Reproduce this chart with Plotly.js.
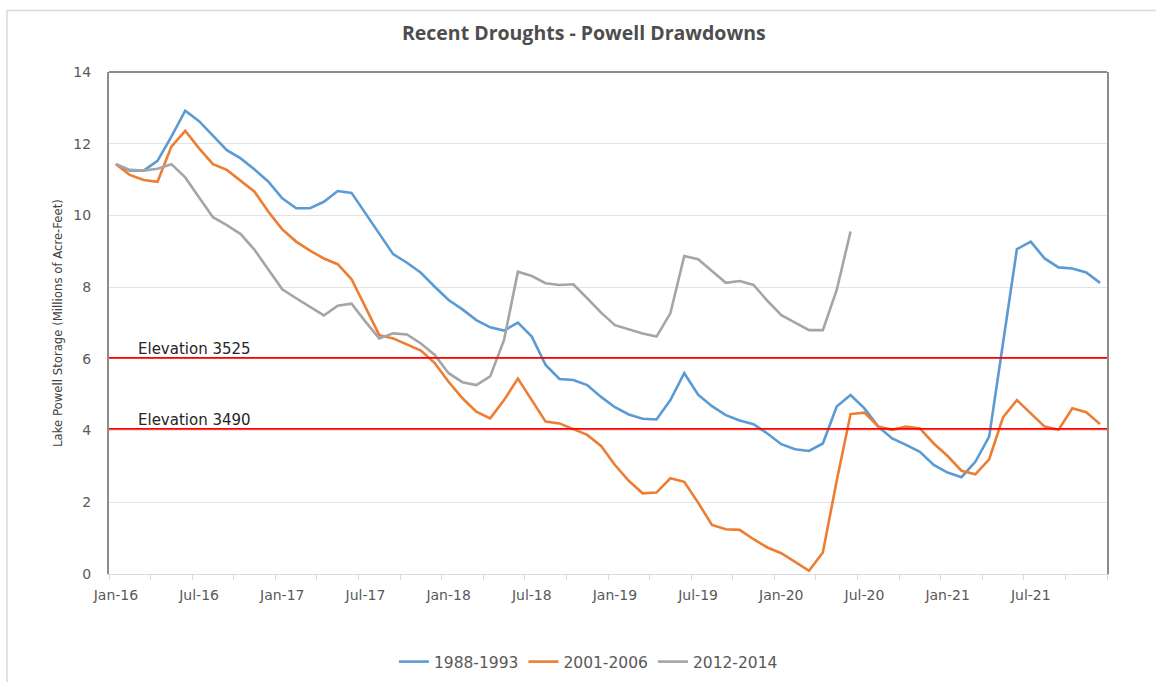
<!DOCTYPE html>
<html>
<head>
<meta charset="utf-8">
<script src="https://cdn.plot.ly/plotly-3.0.1.min.js"></script>
<style>
  html, body { margin: 0; padding: 0; background: #ffffff; }
  #chart { width: 1156px; height: 682px; }
</style>
</head>
<body>
<div id="chart"></div>
<script>
// Month categories (x axis)
const months = [
  "Jan-16","Feb-16","Mar-16","Apr-16","May-16","Jun-16","Jul-16","Aug-16","Sep-16","Oct-16","Nov-16","Dec-16",
  "Jan-17","Feb-17","Mar-17","Apr-17","May-17","Jun-17","Jul-17","Aug-17","Sep-17","Oct-17","Nov-17","Dec-17",
  "Jan-18","Feb-18","Mar-18","Apr-18","May-18","Jun-18","Jul-18","Aug-18","Sep-18","Oct-18","Nov-18","Dec-18",
  "Jan-19","Feb-19","Mar-19","Apr-19","May-19","Jun-19","Jul-19","Aug-19","Sep-19","Oct-19","Nov-19","Dec-19",
  "Jan-20","Feb-20","Mar-20","Apr-20","May-20","Jun-20","Jul-20","Aug-20","Sep-20","Oct-20","Nov-20","Dec-20",
  "Jan-21","Feb-21","Mar-21","Apr-21","May-21","Jun-21","Jul-21","Aug-21","Sep-21","Oct-21","Nov-21","Dec-21"
];

// Series names
const seriesNames = ["1988-1993", "2001-2006", "2012-2014"];

// Lake Powell storage, millions of acre-feet
const drought1988 = [
  11.43, 11.25, 11.25, 11.52, 12.20, 12.92, 12.63, 12.21, 11.82, 11.59, 11.28, 10.94,
  10.48, 10.20, 10.20, 10.38, 10.68, 10.63, 10.05, 9.47, 8.92, 8.68, 8.40, 8.01,
  7.64, 7.38, 7.08, 6.88, 6.79, 7.01, 6.62, 5.83, 5.44, 5.41, 5.27, 4.94,
  4.65, 4.45, 4.33, 4.31, 4.85, 5.60, 5.00, 4.68, 4.43, 4.28, 4.18, 3.92,
  3.62, 3.48, 3.43, 3.64, 4.67, 4.99, 4.62, 4.11, 3.78, 3.60, 3.41, 3.04,
  2.83, 2.70, 3.13, 3.83, 6.40, 9.06, 9.27, 8.80, 8.55, 8.52, 8.41, 8.12
];
const drought2001 = [
  11.43, 11.13, 10.99, 10.94, 11.92, 12.36, 11.87, 11.43, 11.27, 10.97, 10.66, 10.10,
  9.61, 9.27, 9.02, 8.80, 8.64, 8.22, 7.46, 6.66, 6.57, 6.39, 6.23, 5.88,
  5.36, 4.90, 4.53, 4.34, 4.85, 5.45, 4.85, 4.25, 4.20, 4.03, 3.88, 3.57,
  3.04, 2.60, 2.25, 2.27, 2.67, 2.57, 1.99, 1.37, 1.25, 1.23, 0.97, 0.74,
  0.58, 0.34, 0.09, 0.60, 2.60, 4.46, 4.50, 4.11, 4.02, 4.11, 4.06, 3.64,
  3.29, 2.88, 2.78, 3.20, 4.37, 4.85, 4.48, 4.11, 4.02, 4.62, 4.51, 4.18
];
const drought2012 = [
  11.43, 11.27, 11.25, 11.30, 11.43, 11.06, 10.50, 9.95, 9.73, 9.48, 9.04, 8.48,
  7.94, 7.69, 7.46, 7.21, 7.48, 7.54, 7.04, 6.57, 6.71, 6.68, 6.43, 6.11,
  5.60, 5.35, 5.27, 5.51, 6.53, 8.43, 8.31, 8.11, 8.06, 8.08, 7.69, 7.29,
  6.94, 6.82, 6.71, 6.62, 7.27, 8.87, 8.78, 8.45, 8.12, 8.17, 8.06, 7.62,
  7.22, 7.01, 6.80, 6.80, 7.92, 9.55
];

// Reference elevation lines
const thresholdLabels = ["Elevation 3525", "Elevation 3490"];
const thresholdValues = [6.03, 4.05];

const seriesColors = ["#5B9BD5", "#ED7D31", "#A5A5A5"];
const seriesData = [drought1988, drought2001, drought2012];

const traces = seriesData.map((vals, k) => ({
  type: "scatter",
  mode: "lines",
  name: seriesNames[k],
  x: vals.map((_, i) => i),
  y: vals,
  line: { color: seriesColors[k], width: 2.6 },
  hoverinfo: "x+y",
  text: vals.map((_, i) => months[i])
}));

const tickIdx = months.map((_, i) => i).filter(i => i % 6 === 0);

const shapes = [
  // outer chart border
  { type: "rect", xref: "paper", yref: "paper", x0: -0.1022, x1: 1.12, y0: -0.26, y1: 1.1225,
    line: { color: "#d9d9d9", width: 1.5 }, fillcolor: "rgba(0,0,0,0)", layer: "below" },
  // top plot-area border
  { type: "line", xref: "paper", yref: "paper", x0: 0, x1: 1, y0: 1, y1: 1,
    line: { color: "#8c8c8c", width: 2 } }
];
thresholdValues.forEach(v => {
  shapes.push({ type: "line", xref: "paper", yref: "y", x0: 0, x1: 1, y0: v, y1: v,
    line: { color: "#FF0000", width: 1.8 }, layer: "above" });
});

const annotations = thresholdLabels.map((t, k) => ({
  text: t, xref: "paper", yref: "y", x: 0.027, y: thresholdValues[k],
  xanchor: "left", yanchor: "bottom", showarrow: false, yshift: -2,
  font: { family: "DejaVu Sans, Verdana, sans-serif", size: 15, color: "#262626" }
}));

const layout = {
  width: 1156, height: 682,
  margin: { l: 109, r: 49, t: 72, b: 108, pad: 0 },
  paper_bgcolor: "#ffffff", plot_bgcolor: "#ffffff",
  title: {
    text: "Recent Droughts - Powell Drawdowns",
    font: { family: "Open Sans, sans-serif", size: 19.5, color: "#4d4d4d", weight: "bold" },
    x: 0.505, xanchor: "center", xref: "container", y: 0.9516, yanchor: "middle", yref: "container"
  },
  xaxis: {
    range: [-0.5, 71.5],
    tickmode: "array",
    tickvals: tickIdx,
    ticktext: tickIdx.map(i => months[i]),
    ticks: "outside", ticklen: 8, tickcolor: "rgba(0,0,0,0)",
    tickfont: { family: "DejaVu Sans, Verdana, sans-serif", size: 14, color: "#595959" },
    showgrid: false, zeroline: false,
    showline: true, linecolor: "#d9d9d9", linewidth: 1.2,
    minor: { tickmode: "linear", tick0: -0.5, dtick: 3, ticks: "outside", ticklen: 5, tickcolor: "#d9d9d9", tickwidth: 1, showgrid: false },
    fixedrange: true
  },
  yaxis: {
    range: [0, 14], dtick: 2, tick0: 0,
    showgrid: true, gridcolor: "#e3e3e3", gridwidth: 1,
    zeroline: false,
    showline: true, linecolor: "#8c8c8c", linewidth: 2, mirror: true,
    ticks: "outside", ticklen: 13, tickcolor: "rgba(0,0,0,0)",
    tickfont: { family: "DejaVu Sans, Verdana, sans-serif", size: 14, color: "#595959" },
    title: {
      text: "Lake Powell Storage (Millions of Acre-Feet)",
      font: { family: "Liberation Sans Narrow, DejaVu Sans Condensed, sans-serif", size: 13, color: "#404040" },
      standoff: 8
    },
    fixedrange: true
  },
  showlegend: true,
  legend: {
    orientation: "h", xref: "container", x: 0.509, xanchor: "center",
    yref: "container", y: 0.0293, yanchor: "middle",
    font: { family: "DejaVu Sans, Verdana, sans-serif", size: 15.5, color: "#595959" },
    itemwidth: 30, bgcolor: "rgba(0,0,0,0)"
  },
  shapes: shapes,
  annotations: annotations
};

Plotly.newPlot("chart", traces, layout, { displayModeBar: false, staticPlot: true });
</script>
</body>
</html>
